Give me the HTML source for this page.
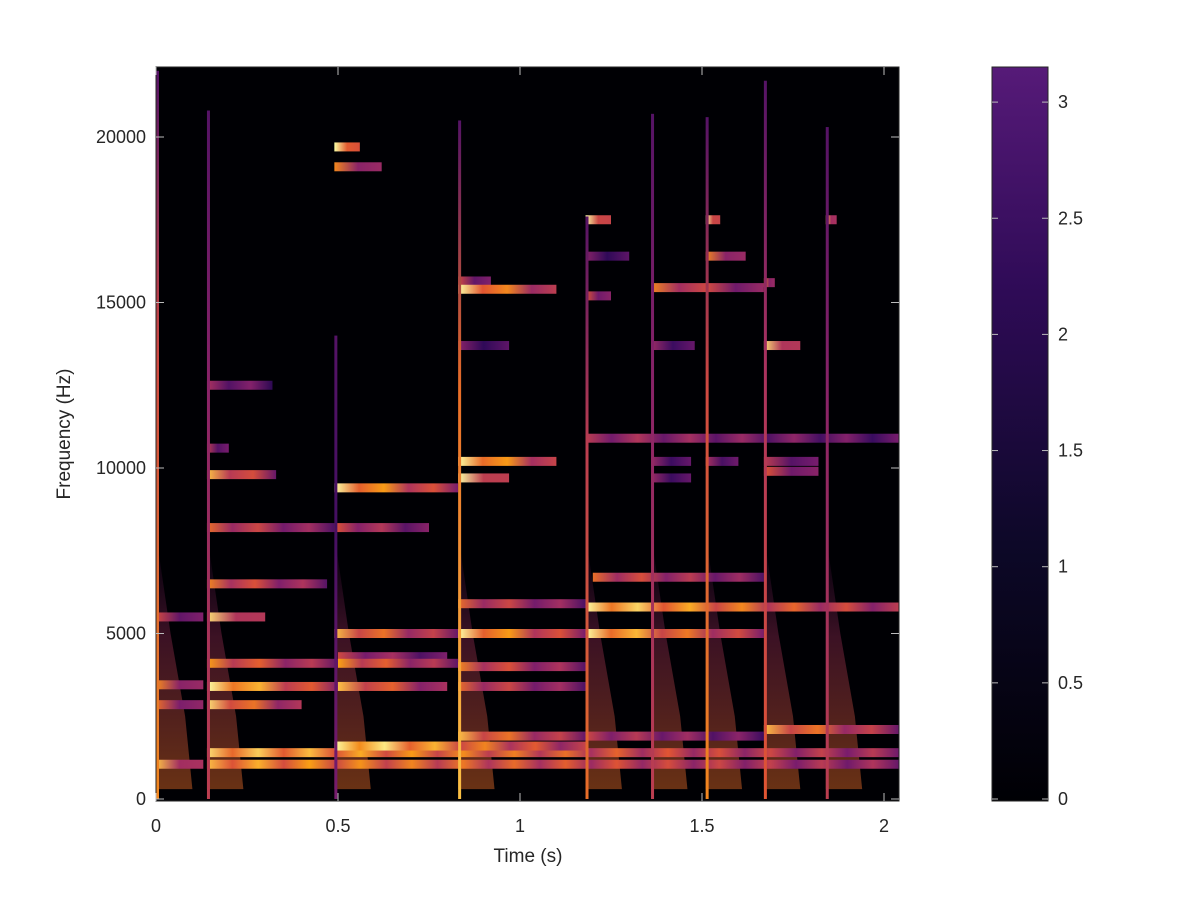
<!DOCTYPE html>
<html><head><meta charset="utf-8"><style>
body{margin:0;background:#fff;}
svg text{font-family:"Liberation Sans",sans-serif;fill:#262626;}
</style></head><body>
<svg id="chart" width="1200" height="900" xmlns="http://www.w3.org/2000/svg">
<defs>
<linearGradient id="cbar" x1="0" y1="1" x2="0" y2="0">
<stop offset="0" stop-color="#000004"/><stop offset="0.35" stop-color="#0d0828"/><stop offset="0.7" stop-color="#2f0b57"/><stop offset="1" stop-color="#561a78"/>
</linearGradient>
</defs>
<g id="plot"></g>
<g id="axes"></g>
<g id="cb"></g>
</svg>
<script>
const onsets=[0.0,0.14,0.49,0.83,1.18,1.36,1.51,1.67,1.84];
const onsetTops=[22000,20800,14000,20500,17600,20700,20600,21700,20300];
const onsetColors=[0.8,0.6,0.4,0.9,0.75,0.6,0.8,0.7,0.6];
const bandStart=[0,0,0,0,0.14,0.14,0.14,0.14,0.14,0.14,0.14,0.14,0.14,0.14,0.14,0.49,0.49,0.49,0.49,0.49,0.5,0.5,0.5,0.49,0.83,0.83,0.83,0.83,0.83,0.83,0.83,0.83,0.83,0.83,1.18,1.18,1.18,1.18,1.2,1.18,1.18,1.67,1.18,1.36,1.36,1.36,1.36,1.51,1.51,1.51,1.67,1.67,1.67,1.67,1.84];
const bandEnd=[0.13,0.13,0.13,0.13,0.32,0.2,0.33,0.49,0.47,0.3,0.5,0.5,0.4,2.04,2.04,0.56,0.62,0.83,0.75,0.83,0.8,0.83,0.8,1.18,0.92,1.1,0.97,1.1,0.97,1.18,1.18,1.18,1.18,1.18,1.25,1.3,1.25,2.04,1.67,2.04,1.67,2.04,1.67,1.67,1.48,1.47,1.47,1.55,1.62,1.6,1.7,1.77,1.82,1.82,1.87];
const bandFreq=[5500,3450,2850,1050,12500,10600,9800,8200,6500,5500,4100,3400,2850,1400,1050,19700,19100,9400,8200,5000,4300,4100,3400,1600,15650,15400,13700,10200,9700,5900,5000,4000,3400,1900,17500,16400,15200,10900,6700,5800,5000,2100,1900,15450,13700,10200,9700,17500,16400,10200,15600,13700,10200,9900,17500];
const bandValue=[0.45,0.6,0.55,0.7,0.35,0.4,0.7,0.55,0.6,0.75,0.65,0.85,0.75,0.75,0.7,0.95,0.6,0.8,0.5,0.7,0.45,0.65,0.7,0.85,0.45,0.8,0.25,0.85,0.8,0.55,0.8,0.6,0.55,0.7,0.85,0.25,0.5,0.4,0.55,0.8,0.8,0.7,0.45,0.6,0.3,0.3,0.3,0.85,0.6,0.35,0.6,0.75,0.4,0.5,0.7];
const xTicks=[0,0.5,1,1.5,2];
const xTickLabels=["0","0.5","1","1.5","2"];
const yTicks=[0,5000,10000,15000,20000];
const cbTicks=[0,0.5,1,1.5,2,2.5,3];

const X0=156,X1=899,Y0=801,YT=67;
const x=t=>156+t*364;
const y=f=>799-f*0.0331;
const cby=v=>799-v*232.3;
const NS='http://www.w3.org/2000/svg';
function inferno(v){
 const st=[[0,[0,0,4]],[0.2,[50,10,94]],[0.4,[120,28,109]],[0.55,[170,50,95]],[0.7,[225,85,50]],[0.85,[250,160,20]],[1,[252,255,164]]];
 v=Math.max(0,Math.min(1,v));
 for(let i=1;i<st.length;i++){if(v<=st[i][0]){const a=st[i-1],b=st[i],k=(v-a[0])/(b[0]-a[0]);return 'rgb('+a[1].map((c,j)=>Math.round(c+(b[1][j]-c)*k)).join(',')+')';}}
}
function el(tag,attrs,parent){const e=document.createElementNS(NS,tag);for(const k in attrs)e.setAttribute(k,attrs[k]);parent.appendChild(e);return e;}
const svg=document.getElementById('chart');
const defs=svg.querySelector('defs');
const plot=document.getElementById('plot');
const bg=el('rect',{x:X0,y:YT,width:X1-X0,height:Y0-YT,fill:'#000004'},plot);


onsets.forEach((t,i)=>{
 const g=el('linearGradient',{id:'bg'+i,x1:0,y1:1,x2:0,y2:0},defs);
 el('stop',{offset:0,'stop-color':inferno(0.75),'stop-opacity':0.45},g);
 el('stop',{offset:0.6,'stop-color':inferno(0.55),'stop-opacity':0.35},g);
 el('stop',{offset:1,'stop-color':inferno(0.35),'stop-opacity':0.05},g);
 const p=el('polygon',{points:`${x(t)},${y(300)} ${x(t)},${y(8000)} ${x(t+0.04)},${y(5000)} ${x(t+0.08)},${y(2500)} ${x(t+0.1)},${y(300)}`,fill:'url(#bg'+i+')'},plot);
 
 
});
bandFreq.forEach((f,i)=>{
 const v=bandValue[i];
 const g=el('linearGradient',{id:'bd'+i,x1:0,y1:0,x2:1,y2:0},defs);
 const n=Math.max(2,Math.round((bandEnd[i]-bandStart[i])*14));
 for(let k=0;k<=n;k++){
  const o=k/n,fade=1-0.5*o;
  el('stop',{offset:o,'stop-color':inferno(k%2?v*fade:Math.min(1,v*fade+0.2))},g);
 }
 const r=el('rect',{x:x(bandStart[i]),y:y(f)-4.5,width:x(bandEnd[i])-x(bandStart[i]),height:9,fill:'url(#bd'+i+')'},plot);
 
 
});
onsets.forEach((t,i)=>{
 const g=el('linearGradient',{id:'on'+i,x1:0,y1:1,x2:0,y2:0},defs);
 el('stop',{offset:0,'stop-color':inferno(onsetColors[i])},g);
 el('stop',{offset:0.6,'stop-color':inferno(onsetColors[i]-0.15)},g);
 el('stop',{offset:1,'stop-color':inferno(0.3)},g);
 const r=el('rect',{x:x(t),y:y(onsetTops[i]),width:3,height:y(0)-y(onsetTops[i]),fill:'url(#on'+i+')'},plot);
 
 
});
const axes=document.getElementById('axes');
const box=el('rect',{x:X0,y:YT,width:X1-X0,height:Y0-YT,fill:'none',stroke:'#262626','stroke-width':1},axes);


xTicks.forEach((t,i)=>{
 el('line',{x1:x(t),x2:x(t),y1:Y0,y2:Y0-8,stroke:'#bbb'},axes);
 el('line',{x1:x(t),x2:x(t),y1:YT,y2:YT+8,stroke:'#bbb'},axes);
 const tx=el('text',{x:x(t),y:832,'font-size':18,'text-anchor':'middle'},axes);tx.textContent=xTickLabels[i];
 
 
});
yTicks.forEach(f=>{
 el('line',{x1:X0,x2:X0+8,y1:y(f),y2:y(f),stroke:'#bbb'},axes);
 el('line',{x1:X1,x2:X1-8,y1:y(f),y2:y(f),stroke:'#bbb'},axes);
 const tx=el('text',{x:146,y:y(f)+6,'font-size':18,'text-anchor':'end'},axes);tx.textContent=String(f);
 
 
});
const xl=el('text',{x:528,y:862,'font-size':19,'text-anchor':'middle'},axes);xl.textContent='Time (s)';


const yl=el('text',{x:70,y:434,'font-size':19,'text-anchor':'middle',transform:'rotate(-90 70 434)'},axes);yl.textContent='Frequency (Hz)';


const cb=document.getElementById('cb');
const cbr=el('rect',{x:992,y:YT,width:56,height:Y0-YT,fill:'url(#cbar)',stroke:'#262626'},cb);


cbTicks.forEach(v=>{
 el('line',{x1:1048,x2:1042,y1:cby(v),y2:cby(v),stroke:'#bbb'},cb);
 el('line',{x1:992,x2:998,y1:cby(v),y2:cby(v),stroke:'#bbb'},cb);
 const tx=el('text',{x:1058,y:cby(v)+6,'font-size':18},cb);tx.textContent=String(v);
 
 
});
</script>
</body></html>
